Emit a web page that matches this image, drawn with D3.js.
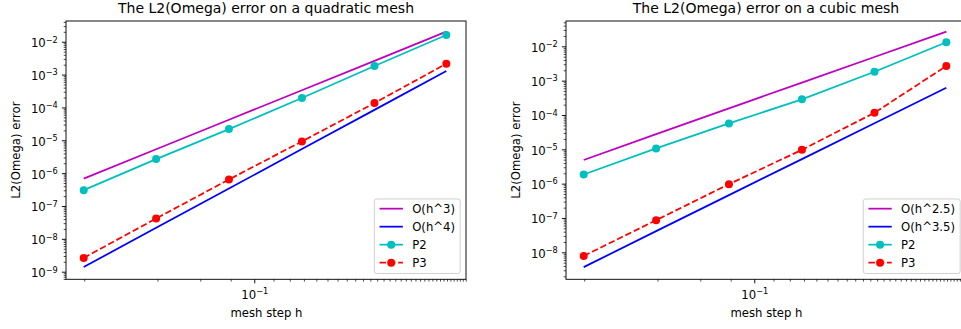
<!DOCTYPE html>
<html><head><meta charset="utf-8">
<script src="https://cdn.jsdelivr.net/npm/d3@7"></script>
<style>
body{margin:0;background:#fff}
svg{display:block}
text{font-family:"DejaVu Sans",sans-serif;fill:#000}
</style>
</head><body>
<svg id="chart" width="961" height="329"></svg>
<script>
// ---------- data ----------
const meshSteps   = [0.0199, 0.0395, 0.0787, 0.157, 0.312, 0.616];

const quadP2      = [3.03e-7, 2.67e-6, 2.19e-5, 1.93e-4, 1.82e-3, 1.60e-2];
const quadP3      = [2.63e-9, 4.16e-8, 6.41e-7, 9.23e-6, 1.36e-4, 2.14e-3];
const quadRefH3   = [6.81e-7, 5.33e-6, 4.21e-5, 3.34e-4, 2.62e-3, 2.02e-2];
const quadRefH4   = [1.39e-9, 2.16e-8, 3.41e-7, 5.40e-6, 8.42e-5, 1.28e-3];

const cubicP2     = [1.85e-6, 1.06e-5, 5.69e-5, 2.85e-4, 1.82e-3, 1.31e-2];
const cubicP3     = [7.85e-9, 8.63e-8, 9.66e-7, 9.66e-6, 1.16e-4, 2.67e-3];
const cubicRefH25 = [4.90e-6, 2.78e-5, 1.56e-4, 8.76e-4, 4.88e-3, 2.67e-2];
const cubicRefH35 = [3.70e-9, 4.15e-8, 4.63e-7, 5.19e-6, 5.74e-5, 6.21e-4];

const xLimits         = [0.01683, 0.742];
const quadYLimits     = [5.87e-10, 0.0427];
const cubicYLimits    = [1.637e-9, 0.0546];
const xMajorTicks     = [0.1];
const xMajorExponents = [-1];
const quadYMajorTicks  = [1e-9, 1e-8, 1e-7, 1e-6, 1e-5, 1e-4, 1e-3, 1e-2];
const quadYExponents   = [-9, -8, -7, -6, -5, -4, -3, -2];
const cubicYMajorTicks = [1e-8, 1e-7, 1e-6, 1e-5, 1e-4, 1e-3, 1e-2];
const cubicYExponents  = [-8, -7, -6, -5, -4, -3, -2];

const quadTitle  = "The L2(Omega) error on a quadratic mesh";
const cubicTitle = "The L2(Omega) error on a cubic mesh";
const quadLabels  = ["O(h^3)", "O(h^4)", "P2", "P3"];
const cubicLabels = ["O(h^2.5)", "O(h^3.5)", "P2", "P3"];
const xLabel = "mesh step h";
const yLabel = "L2(Omega) error";

// ---------- styles ----------
const COLORS = {mag: "#bf00bf", blue: "#0000ff", cyan: "#00bfbf", red: "#ff0000"};
const LW = 1.75, DASH = "6.5,2.8", MR = 4;
const FS = 11.67, TFS = 14;

const svg = d3.select("#chart");

function supLabel(sel, exps) {
  sel.each(function(d, i) {
    const t = d3.select(this);
    t.text(null);
    t.append("tspan").text("10");
    t.append("tspan").attr("font-size", 8.2).attr("dy", -4.6).text("\u2212" + Math.abs(exps[i]));
  });
}

function panel(cfg) {
  const left = cfg.left, top = 21, width = 400, bottom = 279.3;
  const g = svg.append("g");
  const x = d3.scaleLog().domain(xLimits).range([left, left + width]);
  const y = d3.scaleLog().domain(cfg.yLimits).range([bottom, top]);

  // series
  const line = d3.line().x((d, i) => x(meshSteps[i])).y(d => y(d));
  cfg.series.forEach(s => {
    g.append("path").datum(s.values)
      .attr("d", line).attr("fill", "none")
      .attr("stroke", s.color).attr("stroke-width", LW)
      .attr("stroke-dasharray", s.dash ? DASH : null);
    if (s.marker) {
      g.selectAll(null).data(s.values).enter().append("circle")
        .attr("cx", (d, i) => x(meshSteps[i])).attr("cy", d => y(d))
        .attr("r", MR).attr("fill", s.color);
    }
  });

  // axes: minor ticks
  const isMajor = v => Math.abs(Math.log10(v) - Math.round(Math.log10(v))) < 1e-9;
  const xMinor = x.ticks(50).filter(v => !isMajor(v));
  const yMinor = y.ticks(50).filter(v => !isMajor(v));
  const gxm = g.append("g").attr("transform", `translate(0,${bottom})`)
    .call(d3.axisBottom(x).tickValues(xMinor).tickSize(2.3).tickFormat(""));
  const gym = g.append("g").attr("transform", `translate(${left},0)`)
    .call(d3.axisLeft(y).tickValues(yMinor).tickSize(2.3).tickFormat(""));
  [gxm, gym].forEach(a => { a.select(".domain").remove(); a.selectAll("line").attr("stroke-width", 0.7); });

  // major ticks
  const gx = g.append("g").attr("transform", `translate(0,${bottom})`)
    .call(d3.axisBottom(x).tickValues(xMajorTicks).tickSize(4.1).tickPadding(4.1).tickFormat(d => d));
  gx.select(".domain").remove();
  gx.selectAll("line").attr("stroke-width", 0.93);
  gx.selectAll("text").attr("font-size", FS).attr("font-family", "DejaVu Sans")
    .attr("y", null).attr("dy", null).attr("transform", "translate(0,19.7)")
    .call(supLabel, xMajorExponents);

  const gy = g.append("g").attr("transform", `translate(${left},0)`)
    .call(d3.axisLeft(y).tickValues(cfg.yMajor).tickSize(4.1).tickPadding(4.1).tickFormat(d => d));
  gy.select(".domain").remove();
  gy.selectAll("line").attr("stroke-width", 0.93);
  gy.selectAll("text").attr("font-size", FS).attr("font-family", "DejaVu Sans")
    .attr("dy", null).attr("transform", "translate(0,4.9)")
    .call(supLabel, cfg.yExp);

  // frame
  g.append("rect").attr("x", left).attr("y", top).attr("width", width).attr("height", bottom - top)
    .attr("fill", "none").attr("stroke", "#000").attr("stroke-width", 0.93);

  // titles / labels
  g.append("text").attr("x", left + width / 2).attr("y", 12.7).attr("text-anchor", "middle")
    .attr("font-size", TFS).text(cfg.title);
  g.append("text").attr("x", left + width / 2 + 0.5).attr("y", 317.3).attr("text-anchor", "middle")
    .attr("font-size", FS).text(xLabel);
  g.append("text").attr("transform", `translate(${cfg.ylabX},${(top + bottom) / 2}) rotate(-90)`)
    .attr("text-anchor", "middle").attr("font-size", FS).text(yLabel);

  // legend
  const lg = g.append("g");
  const pad = 4.67, handle = 23.3, tpad = 9.3, rowH = 18;
  const lb = lg.append("rect");
  const texts = [];
  let maxW = 0;
  cfg.series.forEach((s, i) => {
    const t = lg.append("text").attr("font-size", FS).text(cfg.labels[i]);
    maxW = Math.max(maxW, t.node().getComputedTextLength());
    texts.push(t);
  });
  const lw = pad * 2 + handle + tpad + maxW + 1;
  const lh = 74.5;
  const lx = left + width - 5.83 - lw, ly = bottom - 5.83 - lh;
  lb.attr("x", lx).attr("y", ly).attr("width", lw).attr("height", lh).attr("rx", 2.3)
    .attr("fill", "#fff").attr("fill-opacity", 0.8).attr("stroke", "#cccccc").attr("stroke-width", 0.93);
  cfg.series.forEach((s, i) => {
    const cy = ly + 9.7 + i * rowH;
    const hx = lx + pad + 0.5;
    lg.append("line").attr("x1", hx).attr("x2", hx + handle).attr("y1", cy).attr("y2", cy)
      .attr("stroke", s.color).attr("stroke-width", LW)
      .attr("stroke-dasharray", s.dash ? DASH : null);
    if (s.marker) lg.append("circle").attr("cx", hx + handle / 2).attr("cy", cy).attr("r", MR).attr("fill", s.color);
    texts[i].attr("x", hx + handle + tpad).attr("y", cy + 4.2);
  });
}

panel({
  left: 66, yLimits: quadYLimits, yMajor: quadYMajorTicks, yExp: quadYExponents,
  title: quadTitle, labels: quadLabels, ylabX: 19.5,
  series: [
    {values: quadRefH3, color: COLORS.mag},
    {values: quadRefH4, color: COLORS.blue},
    {values: quadP2, color: COLORS.cyan, marker: true},
    {values: quadP3, color: COLORS.red, marker: true, dash: true}
  ]
});
panel({
  left: 566, yLimits: cubicYLimits, yMajor: cubicYMajorTicks, yExp: cubicYExponents,
  title: cubicTitle, labels: cubicLabels, ylabX: 520.3,
  series: [
    {values: cubicRefH25, color: COLORS.mag},
    {values: cubicRefH35, color: COLORS.blue},
    {values: cubicP2, color: COLORS.cyan, marker: true},
    {values: cubicP3, color: COLORS.red, marker: true, dash: true}
  ]
});
</script>
</body></html>
